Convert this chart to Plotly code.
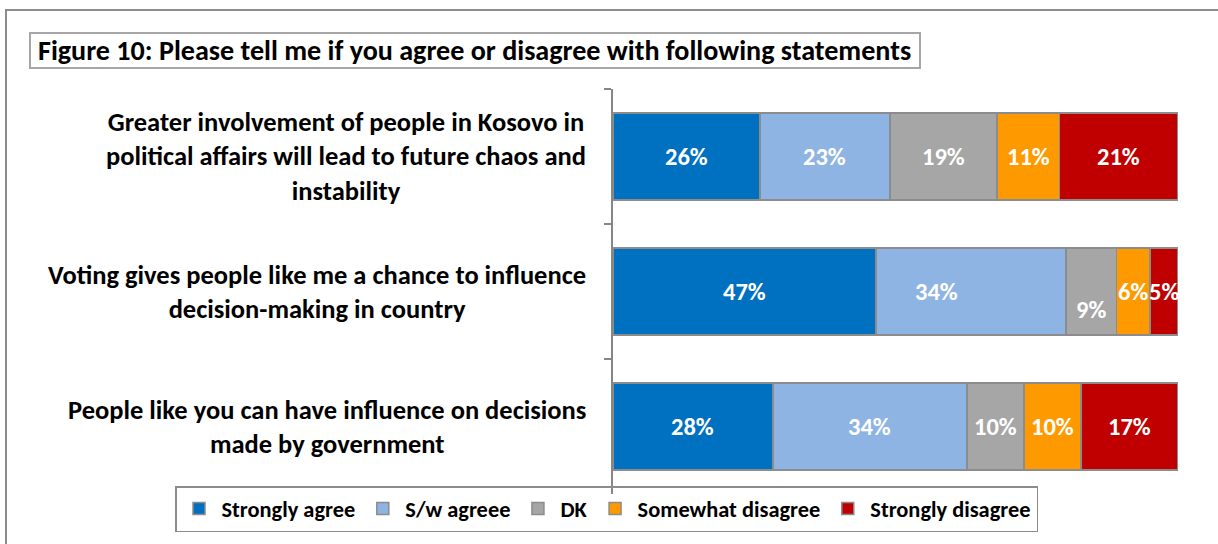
import plotly.graph_objects as go

# Survey statements (top to bottom) and responses in percent
statements = [
    "Greater involvement of people in Kosovo in<br>political affairs will lead to future chaos and<br>instability",
    "Voting gives people like me a chance to influence<br>decision-making in country",
    "People like you can have influence on decisions<br>made by government",
]
series_names = ["Strongly agree", "S/w agreee", "DK", "Somewhat disagree", "Strongly disagree"]
strongly_agree = [26, 47, 28]
sw_agree = [23, 34, 34]
dont_know = [19, 9, 10]
somewhat_disagree = [11, 6, 10]
strongly_disagree = [21, 5, 17]
colors = ["#0070C0", "#8EB4E3", "#A6A6A6", "#FF9900", "#C00000"]

series_values = [strongly_agree, sw_agree, dont_know, somewhat_disagree, strongly_disagree]

W, H = 1218, 544
ML, MR, MT, MB = 613, 40, 89, 50
PW, PH = W - ML - MR, H - MT - MB
FONT = "Calibri, Carlito, Lato, sans-serif"


def px_x(x):
    return (x - ML) / PW


def px_y(y):
    return (H - MB - y) / PH


fig = go.Figure()
for name, vals, col in zip(series_names, series_values, colors):
    fig.add_trace(go.Bar(
        name=f"<b>{name}</b>", y=statements, x=vals, orientation="h",
        marker=dict(color=col, line=dict(color="#8c8c8c", width=1.5)),
        hoverinfo="x+name",
    ))

# value labels centred in each segment of the 100% stacked bars
label_shift = {(1, 1): (-35, 0), (1, 2): (0, 18)}
annotations = []
for r, stmt in enumerate(statements):
    total = sum(s[r] for s in series_values)
    cum = 0.0
    for k, s in enumerate(series_values):
        share = s[r] / total * 100
        dx, dy = label_shift.get((r, k), (0, 0))
        annotations.append(dict(
            x=cum + share / 2, y=stmt, xref="x", yref="y", text=f"<b>{s[r]}%</b>",
            showarrow=False, xshift=dx, yshift=-dy,
            font=dict(family=FONT, size=24.5, color="white"),
        ))
        cum += share
    # statement text to the left of the axis
    annotations.append(dict(
        x=0, y=stmt, xref="paper", yref="y", xanchor="right", xshift=-25,
        text=f"<b>{stmt}</b>", align="center", showarrow=False,
        font=dict(family=FONT, size=26.5, color="black"),
    ))

annotations.append(dict(
    x=px_x(36), y=px_y(51), xref="paper", yref="paper", xanchor="left", yanchor="middle",
    text="<b>Figure 10: Please tell me if you agree or disagree with following statements</b>",
    showarrow=False,
    font=dict(family=FONT, size=28.1, color="black"),
))

fig.update_layout(
    width=W, height=H,
    margin=dict(l=ML, r=MR, t=MT, b=MB, autoexpand=False),
    barmode="stack", barnorm="percent", bargap=0.355,
    paper_bgcolor="white", plot_bgcolor="white",
    font=dict(family=FONT, color="black"),
    xaxis=dict(range=[0, 100], visible=False, fixedrange=True),
    yaxis=dict(
        autorange="reversed", showticklabels=False, showgrid=False,
        showline=True, linecolor="#868686", linewidth=1.5,
        ticks="outside", tickson="boundaries", ticklen=7, tickcolor="#868686", tickwidth=1.5,
        zeroline=False,
    ),
    legend=dict(
        orientation="h", traceorder="normal", itemwidth=35,
        x=px_x(175), y=px_y(532), xanchor="left", yanchor="bottom",
        bordercolor="#8c8c8c", borderwidth=1.5, bgcolor="rgba(255,255,255,0)",
        font=dict(family=FONT, size=22.4, color="black"),
    ),
    annotations=annotations,
    shapes=[
        # outer frame
        dict(type="rect", xref="paper", yref="paper",
             x0=px_x(6), x1=px_x(1240), y0=px_y(570), y1=px_y(10),
             line=dict(color="#8c8c8c", width=2), layer="below"),
        # title box
        dict(type="rect", xref="paper", yref="paper",
             x0=px_x(30), x1=px_x(920), y0=px_y(68), y1=px_y(33),
             line=dict(color="#a6a6a6", width=2), layer="below"),
    ],
)

fig.write_html("out.html")
